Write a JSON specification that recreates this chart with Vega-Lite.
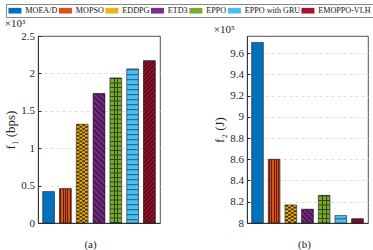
{
  "$schema": "https://vega.github.io/schema/vega-lite/v6.json",
  "padding": {"left": 4, "top": 3, "right": 4, "bottom": 1},
  "data": {"values": [
    {"method": "MOEA/D", "f1": 0.42, "f2": 9.70},
    {"method": "MOPSO", "f1": 0.46, "f2": 8.60},
    {"method": "EDDPG", "f1": 1.32, "f2": 8.17},
    {"method": "ETD3", "f1": 1.73, "f2": 8.13},
    {"method": "EPPO", "f1": 1.94, "f2": 8.26},
    {"method": "EPPO with GRU", "f1": 2.06, "f2": 8.07},
    {"method": "EMOPPO-VLH", "f1": 2.17, "f2": 8.04}
  ]},
  "config": {
    "font": "Liberation Serif",
    "view": {"stroke": "#262626", "strokeWidth": 0.8},
    "title": {"font": "Liberation Serif", "fontSize": 11, "fontWeight": "normal", "color": "#262626", "anchor": "start", "offset": 1},
    "axis": {"labelFont": "Liberation Serif", "titleFont": "Liberation Serif", "labelFontSize": 11, "titleFontSize": 13, "titleFontWeight": "normal", "labelColor": "#262626", "titleColor": "#262626", "domainColor": "#262626", "tickColor": "#262626", "domainWidth": 0.8},
    "axisY": {"grid": true, "gridDash": [3, 3], "tickSize": -3, "labelPadding": 6.5, "titlePadding": 3},
    "axisX": {"labels": false, "ticks": false, "titlePadding": 15, "titleFontSize": 11},
    "legend": {"orient": "none", "legendX": -32, "legendY": -32, "direction": "horizontal", "columns": 7, "title": null, "labelFont": "Liberation Serif", "labelFontSize": 8.1, "labelColor": "#111", "symbolType": "M-1.6,-0.7H1.6V0.7H-1.6Z", "symbolSize": 66, "symbolOffset": 2.44, "symbolStrokeWidth": 0, "symbolOpacity": 1, "strokeColor": "#888", "padding": 2, "columnPadding": 0.5, "labelOffset": 5.9}
  },
  "spacing": 52,
  "hconcat": [
    {
      "width": 122,
      "height": 187,
      "title": {"text": "×10³"},
      "encoding": {
        "x": {"field": "method", "type": "nominal", "sort": null, "scale": {"paddingInner": 0.3, "paddingOuter": 0.28}, "axis": {"title": "(a)", "titleX": 52}},
        "y": {"field": "f1", "type": "quantitative", "scale": {"domain": [0, 2.5], "nice": false}, "axis": {"title": "f₁ (bps)", "values": [0, 0.5, 1, 1.5, 2, 2.5], "format": ".1~f", "gridColor": {"condition": {"test": "datum.value >= 2.5 || datum.value <= 0", "value": "transparent"}, "value": "#dedede"}}},
        "y2": {"datum": 0}
      },
      "layer": [
        {"mark": {"type": "bar"}, "encoding": {"color": {"field": "method", "type": "nominal", "sort": null, "scale": {"domain": ["MOEA/D", "MOPSO", "EDDPG", "ETD3", "EPPO", "EPPO with GRU", "EMOPPO-VLH"], "range": ["#0072BD", "#D95319", "#EDB120", "#7E2F8E", "#77AC30", "#4DBEEE", "#A2142F"]}}}},
        {"transform": [{"filter": "datum.method === 'MOPSO'"}], "mark": {"type": "bar", "fill": {"gradient": "linear", "x1": 0, "y1": 0, "x2": 1, "y2": 0, "stops": [
          {"offset": 0, "color": "#D95319"}, {"offset": 0.06, "color": "#D95319"}, {"offset": 0.06, "color": "#5c1e05"}, {"offset": 0.14, "color": "#5c1e05"}, {"offset": 0.14, "color": "#D95319"},
          {"offset": 0.26, "color": "#D95319"}, {"offset": 0.26, "color": "#5c1e05"}, {"offset": 0.34, "color": "#5c1e05"}, {"offset": 0.34, "color": "#D95319"},
          {"offset": 0.46, "color": "#D95319"}, {"offset": 0.46, "color": "#5c1e05"}, {"offset": 0.54, "color": "#5c1e05"}, {"offset": 0.54, "color": "#D95319"},
          {"offset": 0.66, "color": "#D95319"}, {"offset": 0.66, "color": "#5c1e05"}, {"offset": 0.74, "color": "#5c1e05"}, {"offset": 0.74, "color": "#D95319"},
          {"offset": 0.86, "color": "#D95319"}, {"offset": 0.86, "color": "#5c1e05"}, {"offset": 0.94, "color": "#5c1e05"}, {"offset": 0.94, "color": "#D95319"}, {"offset": 1, "color": "#D95319"}]}}},
        {"transform": [{"filter": "datum.method === 'EDDPG'"}], "mark": {"type": "rule", "color": "#4a3500", "strokeWidth": 2.8, "strokeDash": [1.8, 1.8], "xOffset": -4.16}},
        {"transform": [{"filter": "datum.method === 'EDDPG'"}], "mark": {"type": "rule", "color": "#4a3500", "strokeWidth": 2.8, "strokeDash": [1.8, 1.8], "strokeDashOffset": 1.8, "xOffset": -1.39}},
        {"transform": [{"filter": "datum.method === 'EDDPG'"}], "mark": {"type": "rule", "color": "#4a3500", "strokeWidth": 2.8, "strokeDash": [1.8, 1.8], "xOffset": 1.39}},
        {"transform": [{"filter": "datum.method === 'EDDPG'"}], "mark": {"type": "rule", "color": "#4a3500", "strokeWidth": 2.8, "strokeDash": [1.8, 1.8], "strokeDashOffset": 1.8, "xOffset": 4.16}},
        {"transform": [{"filter": "datum.method === 'ETD3'"}], "mark": {"type": "bar", "fill": {"gradient": "linear", "x1": 0, "y1": 1, "x2": 0.0978, "y2": -0.0817, "stops": [
          {"offset": 0, "color": "#7E2F8E"}, {"offset": 0.02, "color": "#3f1447"}, {"offset": 0.04, "color": "#7E2F8E"}, {"offset": 0.06, "color": "#3f1447"}, {"offset": 0.08, "color": "#7E2F8E"}, {"offset": 0.1, "color": "#3f1447"},
          {"offset": 0.12, "color": "#7E2F8E"}, {"offset": 0.14, "color": "#3f1447"}, {"offset": 0.16, "color": "#7E2F8E"}, {"offset": 0.18, "color": "#3f1447"}, {"offset": 0.2, "color": "#7E2F8E"}, {"offset": 0.22, "color": "#3f1447"},
          {"offset": 0.24, "color": "#7E2F8E"}, {"offset": 0.26, "color": "#3f1447"}, {"offset": 0.28, "color": "#7E2F8E"}, {"offset": 0.3, "color": "#3f1447"}, {"offset": 0.32, "color": "#7E2F8E"}, {"offset": 0.34, "color": "#3f1447"},
          {"offset": 0.36, "color": "#7E2F8E"}, {"offset": 0.38, "color": "#3f1447"}, {"offset": 0.4, "color": "#7E2F8E"}, {"offset": 0.42, "color": "#3f1447"}, {"offset": 0.44, "color": "#7E2F8E"}, {"offset": 0.46, "color": "#3f1447"},
          {"offset": 0.48, "color": "#7E2F8E"}, {"offset": 0.5, "color": "#3f1447"}, {"offset": 0.52, "color": "#7E2F8E"}, {"offset": 0.54, "color": "#3f1447"}, {"offset": 0.56, "color": "#7E2F8E"}, {"offset": 0.58, "color": "#3f1447"},
          {"offset": 0.6, "color": "#7E2F8E"}, {"offset": 0.62, "color": "#3f1447"}, {"offset": 0.64, "color": "#7E2F8E"}, {"offset": 0.66, "color": "#3f1447"}, {"offset": 0.68, "color": "#7E2F8E"}, {"offset": 0.7, "color": "#3f1447"},
          {"offset": 0.72, "color": "#7E2F8E"}, {"offset": 0.74, "color": "#3f1447"}, {"offset": 0.76, "color": "#7E2F8E"}, {"offset": 0.78, "color": "#3f1447"}, {"offset": 0.8, "color": "#7E2F8E"}, {"offset": 0.82, "color": "#3f1447"},
          {"offset": 0.84, "color": "#7E2F8E"}, {"offset": 0.86, "color": "#3f1447"}, {"offset": 0.88, "color": "#7E2F8E"}, {"offset": 0.9, "color": "#3f1447"}, {"offset": 0.92, "color": "#7E2F8E"}, {"offset": 0.94, "color": "#3f1447"},
          {"offset": 0.96, "color": "#7E2F8E"}, {"offset": 0.98, "color": "#3f1447"}, {"offset": 1, "color": "#7E2F8E"}]}}},
        {"transform": [{"filter": "datum.method === 'EPPO'"}], "mark": {"type": "rule", "color": "#2f4a0f", "strokeWidth": 11.1, "strokeDash": [1, 3.5]}},
        {"transform": [{"filter": "datum.method === 'EPPO'"}], "mark": {"type": "bar", "fill": {"gradient": "linear", "x1": 0, "y1": 0, "x2": 1, "y2": 0, "stops": [
          {"offset": 0, "color": "rgba(0,0,0,0)"}, {"offset": 0.31, "color": "rgba(0,0,0,0)"}, {"offset": 0.31, "color": "rgba(40,62,12,0.95)"}, {"offset": 0.39, "color": "rgba(40,62,12,0.95)"}, {"offset": 0.39, "color": "rgba(0,0,0,0)"},
          {"offset": 0.62, "color": "rgba(0,0,0,0)"}, {"offset": 0.62, "color": "rgba(40,62,12,0.95)"}, {"offset": 0.7, "color": "rgba(40,62,12,0.95)"}, {"offset": 0.7, "color": "rgba(0,0,0,0)"}, {"offset": 1, "color": "rgba(0,0,0,0)"}]}}},
        {"transform": [{"filter": "datum.method === 'EPPO with GRU'"}], "mark": {"type": "rule", "color": "#1f6f98", "strokeWidth": 11.1, "strokeDash": [1.3, 3.7]}},
        {"transform": [{"filter": "datum.method === 'EMOPPO-VLH'"}], "mark": {"type": "bar", "fill": {"gradient": "linear", "x1": 0, "y1": 0, "x2": 0.0769, "y2": 1.0666, "stops": [
          {"offset": 0, "color": "#A2142F"}, {"offset": 0.0125, "color": "#4d0816"}, {"offset": 0.025, "color": "#A2142F"}, {"offset": 0.0375, "color": "#4d0816"}, {"offset": 0.05, "color": "#A2142F"}, {"offset": 0.0625, "color": "#4d0816"},
          {"offset": 0.075, "color": "#A2142F"}, {"offset": 0.0875, "color": "#4d0816"}, {"offset": 0.1, "color": "#A2142F"}, {"offset": 0.1125, "color": "#4d0816"}, {"offset": 0.125, "color": "#A2142F"}, {"offset": 0.1375, "color": "#4d0816"},
          {"offset": 0.15, "color": "#A2142F"}, {"offset": 0.1625, "color": "#4d0816"}, {"offset": 0.175, "color": "#A2142F"}, {"offset": 0.1875, "color": "#4d0816"}, {"offset": 0.2, "color": "#A2142F"}, {"offset": 0.2125, "color": "#4d0816"},
          {"offset": 0.225, "color": "#A2142F"}, {"offset": 0.2375, "color": "#4d0816"}, {"offset": 0.25, "color": "#A2142F"}, {"offset": 0.2625, "color": "#4d0816"}, {"offset": 0.275, "color": "#A2142F"}, {"offset": 0.2875, "color": "#4d0816"},
          {"offset": 0.3, "color": "#A2142F"}, {"offset": 0.3125, "color": "#4d0816"}, {"offset": 0.325, "color": "#A2142F"}, {"offset": 0.3375, "color": "#4d0816"}, {"offset": 0.35, "color": "#A2142F"}, {"offset": 0.3625, "color": "#4d0816"},
          {"offset": 0.375, "color": "#A2142F"}, {"offset": 0.3875, "color": "#4d0816"}, {"offset": 0.4, "color": "#A2142F"}, {"offset": 0.4125, "color": "#4d0816"}, {"offset": 0.425, "color": "#A2142F"}, {"offset": 0.4375, "color": "#4d0816"},
          {"offset": 0.45, "color": "#A2142F"}, {"offset": 0.4625, "color": "#4d0816"}, {"offset": 0.475, "color": "#A2142F"}, {"offset": 0.4875, "color": "#4d0816"}, {"offset": 0.5, "color": "#A2142F"}, {"offset": 0.5125, "color": "#4d0816"},
          {"offset": 0.525, "color": "#A2142F"}, {"offset": 0.5375, "color": "#4d0816"}, {"offset": 0.55, "color": "#A2142F"}, {"offset": 0.5625, "color": "#4d0816"}, {"offset": 0.575, "color": "#A2142F"}, {"offset": 0.5875, "color": "#4d0816"},
          {"offset": 0.6, "color": "#A2142F"}, {"offset": 0.6125, "color": "#4d0816"}, {"offset": 0.625, "color": "#A2142F"}, {"offset": 0.6375, "color": "#4d0816"}, {"offset": 0.65, "color": "#A2142F"}, {"offset": 0.6625, "color": "#4d0816"},
          {"offset": 0.675, "color": "#A2142F"}, {"offset": 0.6875, "color": "#4d0816"}, {"offset": 0.7, "color": "#A2142F"}, {"offset": 0.7125, "color": "#4d0816"}, {"offset": 0.725, "color": "#A2142F"}, {"offset": 0.7375, "color": "#4d0816"},
          {"offset": 0.75, "color": "#A2142F"}, {"offset": 0.7625, "color": "#4d0816"}, {"offset": 0.775, "color": "#A2142F"}, {"offset": 0.7875, "color": "#4d0816"}, {"offset": 0.8, "color": "#A2142F"}, {"offset": 0.8125, "color": "#4d0816"},
          {"offset": 0.825, "color": "#A2142F"}, {"offset": 0.8375, "color": "#4d0816"}, {"offset": 0.85, "color": "#A2142F"}, {"offset": 0.8625, "color": "#4d0816"}, {"offset": 0.875, "color": "#A2142F"}, {"offset": 0.8875, "color": "#4d0816"},
          {"offset": 0.9, "color": "#A2142F"}, {"offset": 0.9125, "color": "#4d0816"}, {"offset": 0.925, "color": "#A2142F"}, {"offset": 0.9375, "color": "#4d0816"}, {"offset": 0.95, "color": "#A2142F"}, {"offset": 0.9625, "color": "#4d0816"},
          {"offset": 0.975, "color": "#A2142F"}, {"offset": 0.9875, "color": "#4d0816"}, {"offset": 1, "color": "#A2142F"}]}}},
        {"mark": {"type": "bar", "fillOpacity": 0, "stroke": "#1a1a1a", "strokeWidth": 0.6}}
      ]
    },
    {
      "width": 121,
      "height": 187,
      "title": {"text": "×10⁵"},
      "encoding": {
        "x": {"field": "method", "type": "nominal", "sort": null, "scale": {"paddingInner": 0.3, "paddingOuter": 0.28}, "axis": {"title": "(b)", "titleX": 57}},
        "y": {"field": "f2", "type": "quantitative", "scale": {"domain": [8, 9.76], "nice": false, "zero": false}, "axis": {"title": "f₂ (J)", "values": [8, 8.2, 8.4, 8.6, 8.8, 9, 9.2, 9.4, 9.6], "format": ".1~f", "gridColor": {"condition": {"test": "datum.value <= 8", "value": "transparent"}, "value": "#dedede"}}},
        "y2": {"datum": 8}
      },
      "layer": [
        {"mark": {"type": "bar"}, "encoding": {"color": {"field": "method", "type": "nominal", "sort": null}}},
        {"transform": [{"filter": "datum.method === 'MOPSO'"}], "mark": {"type": "bar", "fill": {"gradient": "linear", "x1": 0, "y1": 0, "x2": 1, "y2": 0, "stops": [
          {"offset": 0, "color": "#D95319"}, {"offset": 0.06, "color": "#D95319"}, {"offset": 0.06, "color": "#5c1e05"}, {"offset": 0.14, "color": "#5c1e05"}, {"offset": 0.14, "color": "#D95319"},
          {"offset": 0.26, "color": "#D95319"}, {"offset": 0.26, "color": "#5c1e05"}, {"offset": 0.34, "color": "#5c1e05"}, {"offset": 0.34, "color": "#D95319"},
          {"offset": 0.46, "color": "#D95319"}, {"offset": 0.46, "color": "#5c1e05"}, {"offset": 0.54, "color": "#5c1e05"}, {"offset": 0.54, "color": "#D95319"},
          {"offset": 0.66, "color": "#D95319"}, {"offset": 0.66, "color": "#5c1e05"}, {"offset": 0.74, "color": "#5c1e05"}, {"offset": 0.74, "color": "#D95319"},
          {"offset": 0.86, "color": "#D95319"}, {"offset": 0.86, "color": "#5c1e05"}, {"offset": 0.94, "color": "#5c1e05"}, {"offset": 0.94, "color": "#D95319"}, {"offset": 1, "color": "#D95319"}]}}},
        {"transform": [{"filter": "datum.method === 'EDDPG'"}], "mark": {"type": "rule", "color": "#4a3500", "strokeWidth": 2.8, "strokeDash": [1.8, 1.8], "xOffset": -4.16}},
        {"transform": [{"filter": "datum.method === 'EDDPG'"}], "mark": {"type": "rule", "color": "#4a3500", "strokeWidth": 2.8, "strokeDash": [1.8, 1.8], "strokeDashOffset": 1.8, "xOffset": -1.39}},
        {"transform": [{"filter": "datum.method === 'EDDPG'"}], "mark": {"type": "rule", "color": "#4a3500", "strokeWidth": 2.8, "strokeDash": [1.8, 1.8], "xOffset": 1.39}},
        {"transform": [{"filter": "datum.method === 'EDDPG'"}], "mark": {"type": "rule", "color": "#4a3500", "strokeWidth": 2.8, "strokeDash": [1.8, 1.8], "strokeDashOffset": 1.8, "xOffset": 4.16}},
        {"transform": [{"filter": "datum.method === 'ETD3'"}], "mark": {"type": "bar", "fill": {"gradient": "linear", "x1": 0, "y1": 1, "x2": 0.9115, "y2": -0.075, "stops": [
          {"offset": 0, "color": "#7E2F8E"}, {"offset": 0.1, "color": "#3f1447"}, {"offset": 0.2, "color": "#7E2F8E"}, {"offset": 0.3, "color": "#3f1447"}, {"offset": 0.4, "color": "#7E2F8E"}, {"offset": 0.5, "color": "#3f1447"},
          {"offset": 0.6, "color": "#7E2F8E"}, {"offset": 0.7, "color": "#3f1447"}, {"offset": 0.8, "color": "#7E2F8E"}, {"offset": 0.9, "color": "#3f1447"}, {"offset": 1, "color": "#7E2F8E"}]}}},
        {"transform": [{"filter": "datum.method === 'EPPO'"}], "mark": {"type": "rule", "color": "#2f4a0f", "strokeWidth": 11.1, "strokeDash": [1, 3.5]}},
        {"transform": [{"filter": "datum.method === 'EPPO'"}], "mark": {"type": "bar", "fill": {"gradient": "linear", "x1": 0, "y1": 0, "x2": 1, "y2": 0, "stops": [
          {"offset": 0, "color": "rgba(0,0,0,0)"}, {"offset": 0.31, "color": "rgba(0,0,0,0)"}, {"offset": 0.31, "color": "rgba(40,62,12,0.95)"}, {"offset": 0.39, "color": "rgba(40,62,12,0.95)"}, {"offset": 0.39, "color": "rgba(0,0,0,0)"},
          {"offset": 0.62, "color": "rgba(0,0,0,0)"}, {"offset": 0.62, "color": "rgba(40,62,12,0.95)"}, {"offset": 0.7, "color": "rgba(40,62,12,0.95)"}, {"offset": 0.7, "color": "rgba(0,0,0,0)"}, {"offset": 1, "color": "rgba(0,0,0,0)"}]}}},
        {"transform": [{"filter": "datum.method === 'EPPO with GRU'"}], "mark": {"type": "rule", "color": "#1f6f98", "strokeWidth": 11.1, "strokeDash": [1.3, 3.7], "strokeDashOffset": -2.5}},
        {"transform": [{"filter": "datum.method === 'EMOPPO-VLH'"}], "mark": {"type": "bar", "fill": {"gradient": "linear", "x1": 0, "y1": 0, "x2": 1.204, "y2": 0.4375, "stops": [
          {"offset": 0, "color": "#A2142F"}, {"offset": 0.125, "color": "#4d0816"}, {"offset": 0.25, "color": "#A2142F"}, {"offset": 0.375, "color": "#4d0816"}, {"offset": 0.5, "color": "#A2142F"},
          {"offset": 0.625, "color": "#4d0816"}, {"offset": 0.75, "color": "#A2142F"}, {"offset": 0.875, "color": "#4d0816"}, {"offset": 1, "color": "#A2142F"}]}}},
        {"mark": {"type": "bar", "fillOpacity": 0, "stroke": "#1a1a1a", "strokeWidth": 0.6}}
      ]
    }
  ]
}
